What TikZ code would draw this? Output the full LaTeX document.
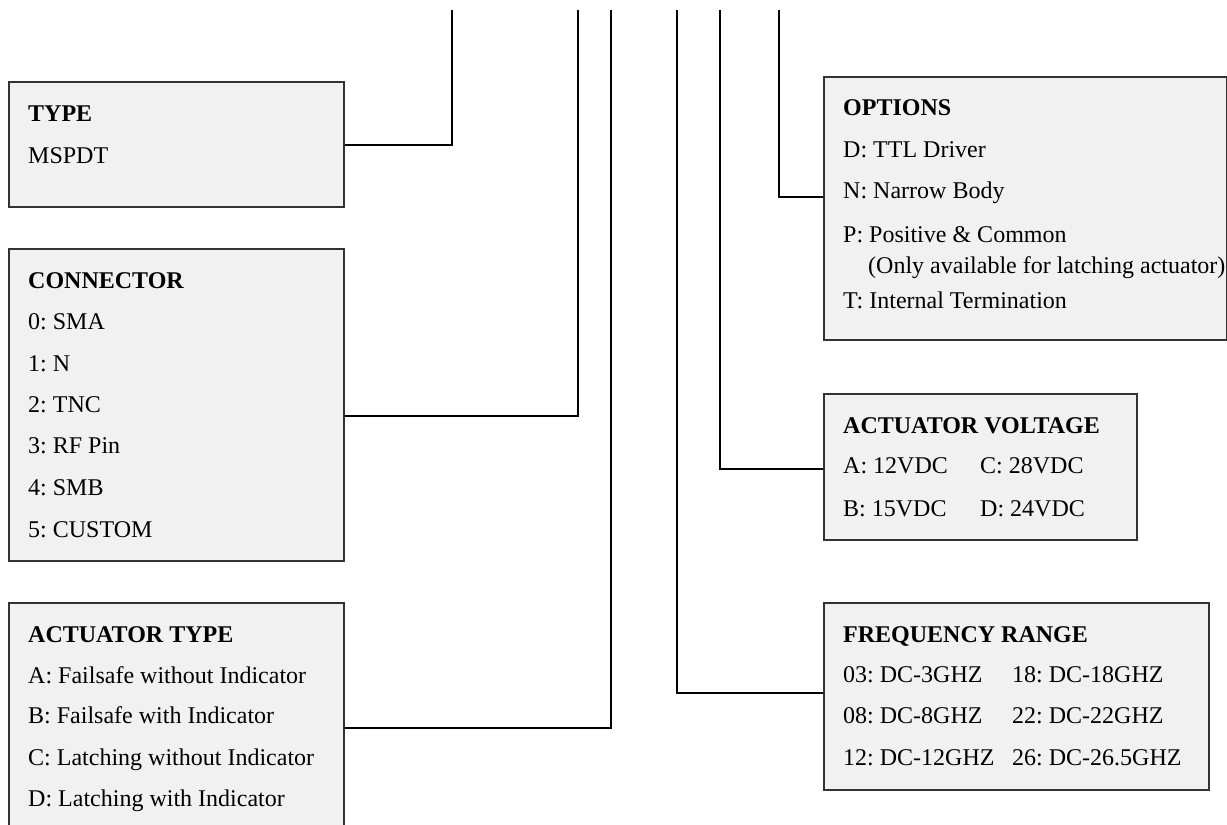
\documentclass[tikz,border=0pt]{standalone}
\usepackage{fontspec}
\setmainfont{Liberation Serif}
\usepackage{tikz}
\usetikzlibrary{positioning, calc}
\usepackage{xcolor}
\definecolor{panelfill}{HTML}{F1F1F1}
\definecolor{panelline}{HTML}{333333}
\frenchspacing

\begin{document}
\begin{tikzpicture}[
    x=1pt, y=-1pt,
    font=\fontsize{24}{28}\selectfont,
    panel/.style={draw=panelline, line width=1.5pt, fill=panelfill, anchor=north west, inner sep=0pt},
    entry/.style={anchor=base west, inner sep=0pt},
    head/.style={entry, font=\fontsize{24}{28}\selectfont\bfseries},
    wire/.style={black, line width=2pt}
]
\useasboundingbox (0,0) rectangle (1227,825);

% Panels on the left
\node[panel, minimum width=335, minimum height=125] (typebox) at (8,81) {};
\node[panel, minimum width=335, minimum height=312] (connbox) at (8,248) {};
\node[panel, minimum width=335, minimum height=262] (acttypebox) at (8,602) {};

% Panels on the right
\node[panel, minimum width=403, minimum height=263] (optbox) at (823,76) {};
\node[panel, minimum width=313, minimum height=146] (voltbox) at (823,393) {};
\node[panel, minimum width=385, minimum height=187] (freqbox) at (823,602) {};

% TYPE
\node[head] (type-head) at (28,121) {TYPE};
\node[entry] (type-a) at (28,163) {MSPDT};

% CONNECTOR
\node[head] (conn-head) at (28,288) {CONNECTOR};
\node[entry] (conn-0) at (28,329) {0: SMA};
\node[entry] (conn-1) at (28,371) {1: N};
\node[entry] (conn-2) at (28,412) {2: TNC};
\node[entry] (conn-3) at (28,453) {3: RF Pin};
\node[entry] (conn-4) at (28,495) {4: SMB};
\node[entry] (conn-5) at (28,537) {5: CUSTOM};

% ACTUATOR TYPE
\node[head] (act-head) at (28,642) {ACTUATOR TYPE};
\node[entry] (act-a) at (28,683) {A: Failsafe without Indicator};
\node[entry] (act-b) at (28,723) {B: Failsafe with Indicator};
\node[entry] (act-c) at (28,765) {C: Latching without Indicator};
\node[entry] (act-d) at (28,806) {D: Latching with Indicator};

% OPTIONS
\node[head] (opt-head) at (843,115) {OPTIONS};
\node[entry] (opt-d) at (843,157) {D: TTL Driver};
\node[entry] (opt-n) at (843,198) {N: Narrow Body};
\node[entry] (opt-p) at (843,242) {P: Positive \& Common};
\node[entry] (opt-note) at (868,273) {(Only available for latching actuator)};
\node[entry] (opt-t) at (843,308) {T: Internal Termination};

% ACTUATOR VOLTAGE
\node[head] (volt-head) at (843,433) {ACTUATOR VOLTAGE};
\node[entry] (volt-a) at (843,473) {A: 12VDC};
\node[entry] (volt-c) at (980,473) {C: 28VDC};
\node[entry] (volt-b) at (843,516) {B: 15VDC};
\node[entry] (volt-d) at (980,516) {D: 24VDC};

% FREQUENCY RANGE
\node[head] (freq-head) at (843,642) {FREQUENCY RANGE};
\node[entry] (freq-03) at (843,682) {03: DC-3GHZ};
\node[entry] (freq-18) at (1012,682) {18: DC-18GHZ};
\node[entry] (freq-08) at (843,723) {08: DC-8GHZ};
\node[entry] (freq-22) at (1012,723) {22: DC-22GHZ};
\node[entry] (freq-12) at (843,765) {12: DC-12GHZ};
\node[entry] (freq-26) at (1012,765) {26: DC-26.5GHZ};

% Lead lines: free top ends and corners
\coordinate (type-top) at (452,10);   \coordinate (type-bend) at (452,145);
\coordinate (conn-top) at (578,10);   \coordinate (conn-bend) at (578,416);
\coordinate (act-top) at (611,10);    \coordinate (act-bend) at (611,728);
\coordinate (freq-top) at (677,10);   \coordinate (freq-bend) at (677,693);
\coordinate (volt-top) at (720,10);   \coordinate (volt-bend) at (720,469);
\coordinate (opt-top) at (779,10);    \coordinate (opt-bend) at (779,197);

\draw[wire] (typebox.east |- type-bend) -- (type-bend) -- (type-top);
\draw[wire] (connbox.east |- conn-bend) -- (conn-bend) -- (conn-top);
\draw[wire] (acttypebox.east |- act-bend) -- (act-bend) -- (act-top);
\draw[wire] (freq-top) -- (freq-bend) -- (freqbox.west |- freq-bend);
\draw[wire] (volt-top) -- (volt-bend) -- (voltbox.west |- volt-bend);
\draw[wire] (opt-top) -- (opt-bend) -- (optbox.west |- opt-bend);

\end{tikzpicture}
\end{document}
